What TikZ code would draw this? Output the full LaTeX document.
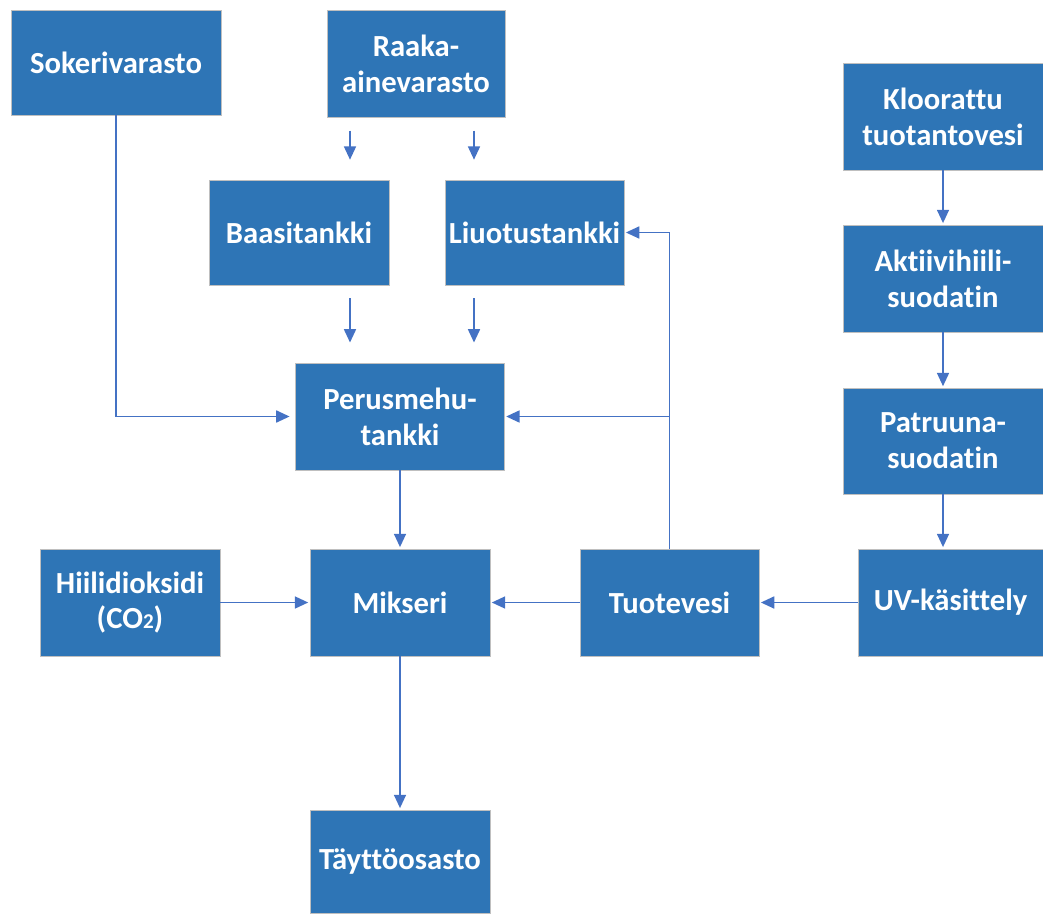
\documentclass[tikz,border=0pt]{standalone}
\usepackage{fontspec}
\setmainfont{Carlito}[Ligatures=NoCommon]
\usepackage{xcolor}
\usetikzlibrary{arrows.meta, positioning}

\definecolor{boxblue}{HTML}{2E75B6}
\definecolor{linkblue}{HTML}{4472C4}
\definecolor{rimgrey}{HTML}{BFBFBF}

\begin{document}
\begin{tikzpicture}[
    x=0.025cm, y=-0.025cm,
    unit/.style={draw=rimgrey, line width=0.5pt, fill=boxblue, text=white, align=center,
      inner sep=0pt, font=\bfseries\fontsize{21.8}{25.5}\selectfont},
    arr/.style={-{Triangle[length=9.5pt,width=8.5pt]}, draw=linkblue, line width=1.3pt, shorten >=1pt},
    gap/.style={shorten <=0.33cm, shorten >=0.5cm}
  ]
  \useasboundingbox (0,0) rectangle (1043,913);

  % Raw materials
  \node[unit, minimum width=5.25cm, minimum height=2.62cm] (soker) at (116,62.5) {Sokerivarasto};
  \node[unit, minimum width=4.45cm, minimum height=2.68cm] (raaka) at (416,63.5) {Raaka-\\ainevarasto};
  \node[unit, minimum width=4.5cm, minimum height=2.62cm] (baasi) at (299,232.5) {Baasitankki};
  \node[unit, minimum width=4.48cm, minimum height=2.62cm] (liuot) at (534.5,232.5) {Liuotustankki};
  \node[unit, minimum width=5.22cm, minimum height=2.68cm] (perus) at (400,416.5) {Perusmehu-\\tankki};

  % Water treatment
  \node[unit, minimum width=5cm, minimum height=2.68cm] (kloor) at (943,116.5) {Kloorattu\\tuotantovesi};
  \node[unit, minimum width=5cm, minimum height=2.68cm] (aktiivi) at (943,278.5) {Aktiivihiili-\\suodatin};
  \node[unit, minimum width=5cm, minimum height=2.65cm] (patruuna) at (943,441) {Patruuna-\\suodatin};
  \node[unit, minimum width=4.62cm, minimum height=2.68cm] (uv) at (950.5,602.5) {UV-käsittely};

  % Mixing and filling
  \node[unit, minimum width=4.5cm, minimum height=2.68cm] (hiili) at (130,602.5) {Hiilidioksidi\\(CO{\fontsize{15}{15}\selectfont 2})};
  \node[unit, minimum width=4.5cm, minimum height=2.68cm] (mikseri) at (400,602.5) {Mikseri};
  \node[unit, minimum width=4.48cm, minimum height=2.68cm] (tuote) at (669.5,602.5) {Tuotevesi};
  \node[unit, minimum width=4.5cm, minimum height=2.58cm] (taytto) at (400,861.5) {Täyttöosasto};

  % Free-standing arrows
  \coordinate (left) at (350,0);
  \coordinate (right) at (474,0);
  \draw[arr, gap] (raaka.south -| left) -- (baasi.north -| left);
  \draw[arr, gap] (raaka.south -| right) -- (liuot.north -| right);
  \draw[arr, gap] (baasi.south -| left) -- (perus.north -| left);
  \draw[arr, gap] (liuot.south -| right) -- (perus.north -| right);

  % Connections
  \draw[arr, shorten >=4pt] (soker.south) |- (perus.west);
  \draw[arr] (perus.south) -- (mikseri.north);
  \draw[arr] (hiili.east) -- (mikseri.west);
  \draw[arr] (tuote.west) -- (mikseri.west -| mikseri.east);
  \draw[arr] (uv.west) -- (tuote.east);
  \draw[arr] (mikseri.south) -- (taytto.north);
  \draw[arr] (tuote.north) |- (liuot.east);
  \draw[arr] (tuote.north |- perus.east) -- (perus.east);
  \draw[arr] (kloor.south) -- (aktiivi.north);
  \draw[arr] (aktiivi.south) -- (patruuna.north);
  \draw[arr] (patruuna.south) -- (patruuna.south |- uv.north);
\end{tikzpicture}
\end{document}
